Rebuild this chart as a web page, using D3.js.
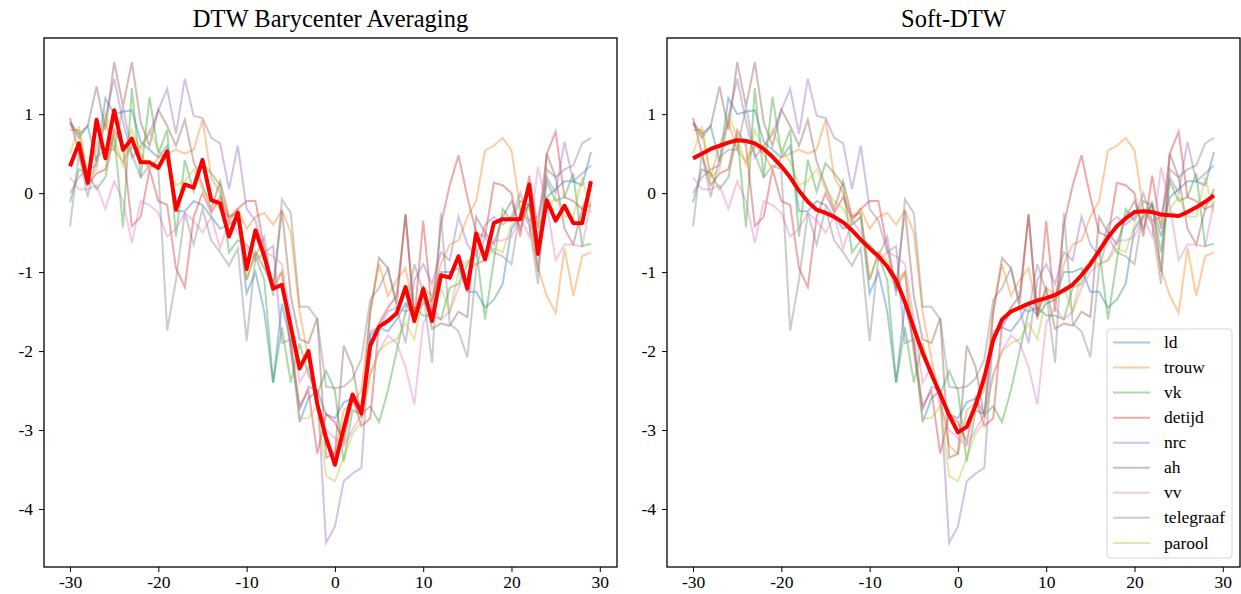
<!DOCTYPE html>
<html>
<head>
<meta charset="utf-8">
<script src="https://cdn.jsdelivr.net/npm/d3@7"></script>
<style>
  body { margin: 0; background: #fff; }
  svg { font-family: "Liberation Serif", "Times New Roman", serif; }
  .tick text { font-size: 17.5px; fill: #000; }
  .tick line { stroke: #000; stroke-width: 1; }
</style>
</head>
<body>
<div id="chart"></div>
<script>
// Data: time steps and one series per newspaper
const steps = d3.range(-30, 30);
const names = ["ld", "trouw", "vk", "detijd", "nrc", "ah", "vv", "telegraaf", "parool"];
const colors = ["#1f77b4", "#ff7f0e", "#2ca02c", "#d62728", "#9467bd", "#8c564b", "#e377c2", "#7f7f7f", "#bcbd22"];

const ld = [0.88, 0.7, 0.85, 0.4, 1.2, 1.0, 1.03, 1.05, 0.65, 0.55, 0.45, 0.6, -0.23, -0.23, -0.1, -0.15, -0.3, -0.45, -0.4, -0.3,
  -1.27, -1.0, -1.5, -2.4, -1.4, -1.9, -2.9, -2.6, -2.5, -2.8, -2.85, -2.65, -2.6, -2.8, -1.8, -1.7, -1.75, -1.6, -1.4, -1.55,
  -1.4, -1.35, -1.0, -1.0, -0.95, -1.25, -1.25, -1.45, -1.35, -1.15, -0.45, -0.3, -0.15, -0.55, -0.05, 0.05, 0.15, 0.15, 0.1, 0.52];
const trouw = [0.8, 0.8, 0.2, 0.6, 0.9, 0.55, 0.4, 0.6, 0.5, 0.3, 0.45, 0.5, 0.55, 0.5, 0.55, 0.93, 0.2, 0.0, -0.3, -0.2,
  -0.45, -0.3, -0.25, -0.4, -0.22, -0.5, -1.5, -2.1, -2.6, -3.2, -3.3, -2.75, -2.65, -2.5, -1.5, -0.9, -1.3, -1.1, -0.95, -1.5,
  -1.2, -1.3, -0.9, -0.65, -0.6, -0.3, -0.1, 0.54, 0.6, 0.7, 0.54, -0.2, -0.35, -0.95, -1.3, -1.52, -0.7, -1.3, -0.8, -0.75];
const vk = [-0.12, 0.3, 0.25, 0.05, 0.2, 0.75, -0.43, 1.33, 0.2, 1.22, 0.5, 0.8, -0.55, 0.42, 0.02, 0.38, 0.25, 0.1, -0.75, -0.6,
  -0.65, -0.8, -1.1, -2.4, -1.7, -2.4, -1.9, -2.3, -2.55, -2.25, -2.5, -3.4, -2.75, -2.8, -2.7, -2.9, -2.5, -2.0, -1.5, -1.45,
  -1.55, -1.55, -1.6, -1.2, -1.15, -0.9, -0.7, -1.6, -0.85, -0.2, -0.35, -0.1, -0.15, -0.75, 0.15, -0.1, -0.05, 0.25, -0.67, -0.64];
const detijd = [0.95, 0.5, 0.1, 0.25, 0.3, 0.8, 0.6, -0.42, -0.3, 0.3, -0.1, -0.15, -0.95, -1.19, -0.3, 0.0, -0.25, -0.05, -0.35, -0.2,
  -0.1, -0.1, -0.7, -1.2, -1.0, -2.0, -2.7, -2.5, -3.3, -2.8, -2.9, -3.15, -2.6, -2.95, -2.85, -1.65, -1.45, -1.3, -0.27, -1.6,
  -0.35, -1.5, -0.4, 0.1, 0.48, -0.05, -0.5, -0.55, 0.13, 0.1, 0.0, -0.55, 0.22, -0.45, 0.5, 0.78, -0.05, -0.1, -0.2, 0.05];
const nrc = [0.0, 0.2, 0.3, 0.35, 0.95, 1.45, 0.9, 0.45, 0.6, 0.75, 1.05, 1.32, 0.75, 1.45, 0.98, 0.95, 0.7, 0.63, 0.05, 0.6,
  -0.2, -0.35, -0.75, -0.67, -1.9, -1.85, -2.75, -2.45, -2.5, -4.43, -4.22, -3.65, -3.55, -3.48, -1.75, -1.7, -1.5, -1.45, -1.9, -1.1,
  -0.9, -1.15, -0.75, -0.85, -0.3, -0.65, -0.8, -0.4, -0.3, -0.4, -0.3, 0.0, -0.35, -0.3, 0.2, 0.0, 0.65, 0.15, 0.25, 0.35];
const ah = [0.9, 0.75, 0.85, 1.35, 0.8, 1.66, 1.1, 1.66, 0.9, 0.6, 1.06, 0.85, 0.6, 0.93, 0.4, 0.1, -0.2, 0.15, -0.3, -0.25,
  -1.1, -0.75, -0.95, -1.2, -0.22, -1.3, -1.85, -1.9, -1.58, -3.35, -3.3, -1.93, -2.2, -2.85, -1.5, -0.82, -0.95, -1.4, -0.27, -1.55,
  -1.2, -1.72, -1.65, -1.68, -1.5, -1.57, -0.3, -0.5, -0.65, -0.3, -0.1, -0.45, -0.1, -1.0, 0.5, 0.2, -0.45, -0.65, -0.2, -0.15];
const vv = [0.2, 0.05, 0.05, 0.1, -0.2, 0.15, -0.1, -0.63, -0.1, -0.15, -0.25, -0.55, -0.45, -0.25, -0.35, -0.5, -0.3, -0.7, -0.35, -0.5,
  -0.7, -0.85, -0.75, -0.8, -0.9, -1.6, -2.4, -2.2, -2.7, -3.0, -3.1, -3.2, -3.0, -2.8, -2.3, -2.0, -1.8, -1.9, -2.2, -2.68,
  -1.65, -1.45, -1.6, -1.5, -1.2, -1.0, -0.9, -0.85, -0.6, -0.6, -0.55, -0.3, -0.55, 0.33, -0.15, -0.85, -0.65, -0.65, -0.68, -0.1];
const telegraaf = [-0.42, 0.5, -0.05, 0.45, 0.55, 0.55, 1.1, 0.5, 0.2, 0.35, 0.3, -1.74, -1.1, -0.25, -0.65, -0.2, -0.6, -0.75, -0.92, -0.7,
  -1.87, -0.8, -0.55, -1.3, -0.08, -0.25, -1.44, -1.44, -1.6, -2.45, -2.47, -2.45, -2.35, -2.1, -1.35, -1.2, -0.95, -1.45, -1.5, -0.9,
  -1.25, -2.15, -0.25, -1.65, -1.75, -2.08, -0.95, -0.55, -0.75, -0.8, -0.9, -0.2, -0.4, -1.15, 0.3, 0.2, 0.3, 0.35, 0.63, 0.7];
const parool = [0.5, 0.85, 0.2, 0.3, 1.0, 0.7, 0.35, 0.8, 0.55, 0.8, 0.55, 0.4, 0.1, 0.15, 0.3, 0.05, -0.1, -0.2, -0.4, -0.3,
  -1.1, -0.75, -0.85, -1.1, -1.0, -1.75, -2.85, -2.85, -2.7, -3.58, -3.65, -3.35, -3.05, -2.9, -2.3, -2.0, -1.9, -1.85, -1.65, -1.85,
  -1.3, -1.35, -1.2, -1.5, -1.0, -0.85, -0.9, -0.85, -0.7, -0.75, -0.4, -0.3, -0.2, -0.4, -0.2, -0.05, -0.3, -0.3, 0.2, -0.25];

// barycenters
const dba = [0.34, 0.63, 0.13, 0.93, 0.44, 1.05, 0.55, 0.69, 0.39, 0.39, 0.32, 0.53, -0.21, 0.11, 0.07, 0.42, -0.09, -0.13, -0.55, -0.25,
  -0.96, -0.47, -0.8, -1.21, -1.16, -1.69, -2.22, -2.0, -2.67, -3.1, -3.44, -2.98, -2.55, -2.79, -1.93, -1.69, -1.62, -1.52, -1.19, -1.62,
  -1.21, -1.62, -1.04, -1.07, -0.8, -1.21, -0.51, -0.84, -0.38, -0.33, -0.33, -0.33, 0.11, -0.77, -0.09, -0.35, -0.16, -0.38, -0.38, 0.15];
const softDtw = [0.44, 0.5, 0.56, 0.6, 0.64, 0.67, 0.66, 0.63, 0.56, 0.46, 0.34, 0.2, 0.03, -0.11, -0.21, -0.25, -0.3, -0.37, -0.47, -0.59,
  -0.7, -0.8, -0.93, -1.1, -1.38, -1.71, -2.02, -2.29, -2.55, -2.81, -3.03, -2.96, -2.69, -2.33, -1.86, -1.6, -1.5, -1.45, -1.4, -1.36,
  -1.33, -1.29, -1.23, -1.16, -1.04, -0.9, -0.73, -0.56, -0.42, -0.32, -0.24, -0.23, -0.24, -0.27, -0.28, -0.29, -0.24, -0.18, -0.11, -0.03];

const series = [ld, trouw, vk, detijd, nrc, ah, vv, telegraaf, parool];

const xTicks = [-30, -20, -10, 0, 10, 20, 30];
const yTicks = [1, 0, -1, -2, -3, -4];

// Layout
const W = 1241, H = 594;
const panels = [
  {title: "DTW Barycenter Averaging", avg: dba, left: 44, legend: false},
  {title: "Soft-DTW", avg: softDtw, left: 667, legend: true}
];
const pw = 573, plotTop = 38, plotBottom = 567;
const serif = "'Liberation Serif', 'Times New Roman', serif";

const svg = d3.select("#chart").append("svg")
  .attr("width", W).attr("height", H);

// matplotlib style 5% margins
const allVals = series.flat().concat(dba, softDtw);
const [ymin, ymax] = d3.extent(allVals);
const ypad = (ymax - ymin) * 0.05;
const xpad = (29 - (-30)) * 0.05;

const line = (x, y) => d3.line()
  .x((d, i) => x(steps[i]))
  .y(d => y(d));

panels.forEach(p => {
  const x = d3.scaleLinear().domain([-30 - xpad, 29 + xpad]).range([p.left, p.left + pw]);
  const y = d3.scaleLinear().domain([ymin - ypad, ymax + ypad]).range([plotBottom, plotTop]);

  const g = svg.append("g");

  const clipId = "clip" + p.left;
  g.append("clipPath").attr("id", clipId)
    .append("rect").attr("x", p.left).attr("y", plotTop).attr("width", pw).attr("height", plotBottom - plotTop);

  const lines = g.append("g").attr("clip-path", `url(#${clipId})`);
  lines.selectAll("path.series")
    .data(series)
    .join("path")
    .attr("class", "series")
    .attr("d", d => line(x, y)(d))
    .attr("fill", "none")
    .attr("stroke", (d, i) => colors[i])
    .attr("stroke-opacity", 0.4)
    .attr("stroke-width", 2);

  lines.append("path")
    .attr("d", line(x, y)(p.avg))
    .attr("fill", "none")
    .attr("stroke", "red")
    .attr("stroke-width", 4)
    .attr("stroke-linejoin", "round");

  // axes
  g.append("g")
    .attr("transform", `translate(0,${plotBottom})`)
    .call(d3.axisBottom(x).tickValues(xTicks).tickSize(5).tickPadding(4).tickFormat(d => String(d)))
    .attr("font-family", serif)
    .call(a => a.select(".domain").remove());

  g.append("g")
    .attr("transform", `translate(${p.left},0)`)
    .call(d3.axisLeft(y).tickValues(yTicks).tickSize(5).tickPadding(6).tickFormat(d => String(d)))
    .attr("font-family", serif)
    .call(a => a.select(".domain").remove());

  g.append("rect")
    .attr("x", p.left).attr("y", plotTop)
    .attr("width", pw).attr("height", plotBottom - plotTop)
    .attr("fill", "none").attr("stroke", "#000").attr("stroke-width", 1.3);

  g.append("text")
    .attr("x", p.left + pw / 2).attr("y", 27)
    .attr("text-anchor", "middle")
    .attr("font-size", 24.5)
    .text(p.title);

  if (p.legend) {
    const lx = p.left + pw - 133, ly = 329;
    const lg = g.append("g");
    lg.append("rect")
      .attr("x", lx).attr("y", ly).attr("width", 125).attr("height", 229)
      .attr("rx", 3).attr("fill", "#fff").attr("fill-opacity", 0.8)
      .attr("stroke", "#d5d5d5").attr("stroke-width", 1);
    const item = lg.selectAll("g.item").data(names).join("g")
      .attr("class", "item")
      .attr("transform", (d, i) => `translate(${lx},${ly + 13.5 + i * 25.05})`);
    item.append("line")
      .attr("x1", 6).attr("x2", 43)
      .attr("stroke", (d, i) => colors[i]).attr("stroke-opacity", 0.4).attr("stroke-width", 2);
    item.append("text")
      .attr("x", 57).attr("dy", "0.32em")
      .attr("font-size", 17.5)
      .text(d => d);
  }
});
</script>
</body>
</html>
